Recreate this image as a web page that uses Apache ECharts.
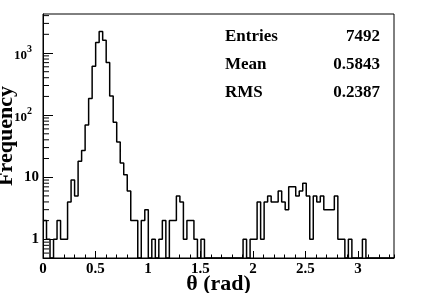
<!DOCTYPE html>
<html><head><meta charset="utf-8">
<script src="https://cdn.jsdelivr.net/npm/echarts@6/dist/echarts.min.js"></script>
<style>html,body{margin:0;padding:0;background:#fff}#c{width:432px;height:293px}</style>
</head><body><div id="c"></div>
<script>
// ---- data ----
const xMin = 0, xMax = 3.343, nBins = 100;
const counts = [
  2,1,0,1,2,1,1,4,9,5,
  18,27,69,186,610,1480,2220,1600,705,203,
  77,37,17,11,6,2,2,0,2,3,
  0,1,0,1,2,0,2,2,5,4,
  1,2,2,1,0,1,0,0,0,0,
  0,0,0,0,0,0,0,1,0,1,
  1,4,1,4,5,4,4,6,4,3,
  7,7,5,6,8,5,1,5,4,5,
  3,3,3,5,1,1,0,1,0,0,
  0,1,0,0,0,0,0,0,0,0
];
const xTickLabels = [0, 0.5, 1, 1.5, 2, 2.5, 3];
const yMin = 0.5, yMax = 4250;
const yMinorTicks = [0.6,0.7,0.8,0.9,2,3,4,5,6,7,8,9,20,30,40,50,60,70,80,90,200,300,400,500,600,700,800,900,2000,3000,4000];
const statsNames = ['Entries', 'Mean', 'RMS'];
const statsValues = ['7492', '0.5843', '0.2387'];
const xTitle = 'θ (rad)';
const yTitle = 'Frequency';

// ---- build ----
const FONT = "'Liberation Serif','Times New Roman',serif";
const binW = (xMax - xMin) / nBins;
const stepData = counts.map((c, i) => [xMin + i * binW, c > 0 ? c : yMin]);
stepData.push([xMax, counts[nBins - 1] > 0 ? counts[nBins - 1] : yMin]);

function yLabel(v) {
  const e = Math.round(Math.log10(v));
  if (Math.abs(Math.log10(v) - e) > 1e-6) return '';
  if (e === 0) return '1';
  if (e === 1) return '10';
  return '{b|10}{s|' + e + '}';
}

const chart = echarts.init(document.getElementById('c'), null, {renderer: 'canvas'});
const labelStyle = {fontFamily: FONT, fontWeight: 'bold', fontSize: 15, color: '#000'};

const graphics = [];
statsNames.forEach((n, i) => {
  graphics.push({type: 'text', left: 225, top: 28 + i * 28.3,
    style: {text: n, font: "bold 17px " + FONT, fill: '#000'}});
  graphics.push({type: 'text', right: 52, top: 28 + i * 28.3,
    style: {text: statsValues[i], font: "bold 17px " + FONT, fill: '#000', textAlign: 'right'}});
});

chart.setOption({
  animation: false,
  backgroundColor: '#fff',
  grid: {left: 43, top: 14, right: 38, bottom: 35, containLabel: false, outerBoundsMode: 'none',
    show: true, borderColor: '#000', borderWidth: 1, backgroundColor: 'transparent'},
  xAxis: [{
    type: 'value', min: xMin, max: xMax, interval: 0.5,
    position: 'bottom',
    axisLine: {show: true, onZero: false, lineStyle: {color: '#000', width: 1}},
    axisTick: {show: true, inside: true, length: 7, lineStyle: {color: '#000'}},
    axisLabel: Object.assign({margin: 4, showMaxLabel: false,
      formatter: v => (xTickLabels.indexOf(Math.round(v * 10) / 10) >= 0 ? String(Math.round(v * 10) / 10) : '')}, labelStyle),
    splitLine: {show: false},
    name: xTitle, nameLocation: 'middle', nameGap: 15, nameMoveOverlap: false,
    nameTextStyle: {fontFamily: FONT, fontWeight: 'bold', fontSize: 22, color: '#000', verticalAlign: 'top'}
  }, {
    type: 'value', min: xMin, max: xMax, interval: 0.1,
    position: 'bottom',
    axisLine: {show: false, onZero: false},
    axisTick: {show: true, inside: true, length: 3.5, lineStyle: {color: '#000'}},
    axisLabel: {show: false},
    splitLine: {show: false}
  }],
  yAxis: {
    type: 'log', logBase: 10, min: yMin, max: yMax, splitNumber: 4,
    axisLine: {show: true, lineStyle: {color: '#000', width: 1}},
    axisTick: {show: true, inside: true, length: 10, lineStyle: {color: '#000'}},
    axisLabel: Object.assign({margin: 4, showMinLabel: false, showMaxLabel: false, formatter: yLabel,
      rich: {
        b: {fontFamily: FONT, fontWeight: 'bold', fontSize: 13, color: '#000', lineHeight: 18, verticalAlign: 'bottom'},
        s: {fontFamily: FONT, fontWeight: 'bold', fontSize: 10, color: '#000', lineHeight: 18, verticalAlign: 'top', padding: [0, 7, 0, 0]}
      }}, labelStyle),
    splitLine: {show: false},
    name: yTitle, nameLocation: 'middle', nameGap: 26, nameRotate: 90, nameMoveOverlap: false,
    nameTextStyle: {fontFamily: FONT, fontWeight: 'bold', fontSize: 22, color: '#000', verticalAlign: 'bottom'}
  },
  graphic: graphics,
  series: [{
    type: 'line', step: 'end', data: stepData, xAxisIndex: 0,
    showSymbol: false, symbol: 'none', clip: true,
    lineStyle: {color: '#000', width: 1.5}
  }, {
    type: 'custom', xAxisIndex: 0,
    data: yMinorTicks.map(v => [xMin, v]),
    renderItem: function (params, api) {
      const p = api.coord([api.value(0), api.value(1)]);
      return {type: 'line', shape: {x1: p[0], y1: p[1], x2: p[0] + 6, y2: p[1]},
        style: {stroke: '#000', lineWidth: 1}};
    },
    silent: true
  }]
});
</script>
</body></html>
